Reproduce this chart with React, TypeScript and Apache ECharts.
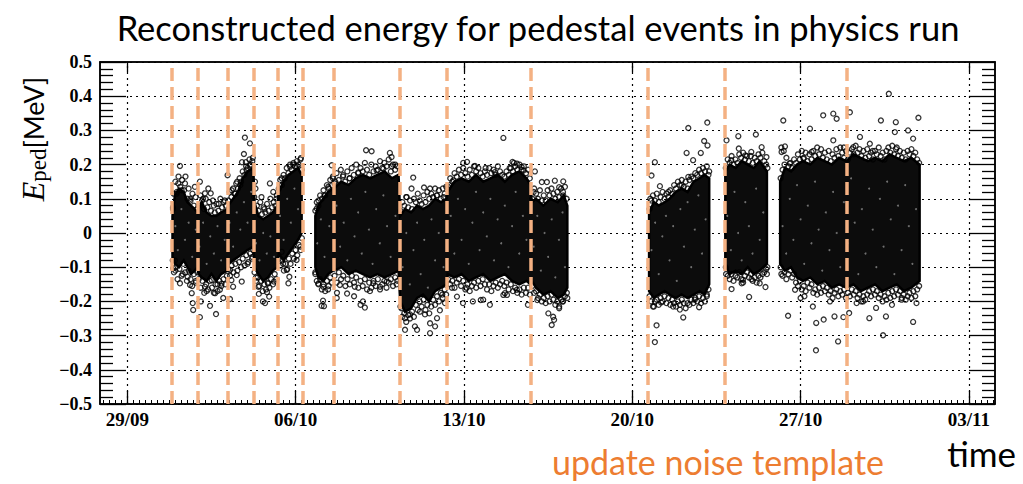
import { useEffect, useRef } from "react";
import * as echarts from "echarts";

// ---- axes -----------------------------------------------------------------
// x values are days counted from 29/09 00:00
const X_MIN = -1.135;
const X_MAX = 36.085;
const dateTickDays = [0, 7, 14, 21, 28, 35];
const dateTickLabels = ["29/09", "06/10", "13/10", "20/10", "27/10", "03/11"];
const Y_MIN = -0.5;
const Y_MAX = 0.5;
const Y_STEP = 0.1;

// ---- noise-template updates (days) ----------------------------------------
const templateUpdateDays = [1.85, 2.93, 4.17, 5.26, 6.25, 7.29, 8.57, 11.31, 13.29, 16.79, 21.64, 24.84, 29.9];

// ---- dense core of the pedestal cloud: [day, low, high] --------------------
const coreRunA: number[][] = [
  [1.88, -0.07, 0.05], [1.98, -0.09, 0.11], [2.15, -0.1, 0.13], [2.35, -0.08, 0.12], [2.5, -0.1, 0.09],
  [2.65, -0.12, 0.08], [2.8, -0.11, 0.07], [2.92, -0.1, 0.06], [2.96, -0.12, 0.07], [3.1, -0.13, 0.09],
  [3.3, -0.14, 0.06], [3.5, -0.12, 0.05], [3.7, -0.14, 0.05], [3.9, -0.12, 0.06], [4.15, -0.11, 0.07],
  [4.2, -0.09, 0.08], [4.4, -0.08, 0.1], [4.6, -0.07, 0.12], [4.8, -0.06, 0.16], [5.0, -0.05, 0.18],
  [5.24, -0.04, 0.19], [5.29, -0.1, 0.09], [5.45, -0.12, 0.05], [5.65, -0.14, 0.04], [5.85, -0.13, 0.05],
  [6.05, -0.11, 0.06], [6.24, -0.1, 0.08], [6.3, -0.06, 0.12], [6.5, -0.08, 0.15], [6.7, -0.06, 0.17],
  [6.9, -0.04, 0.18], [7.1, -0.02, 0.19], [7.25, 0.0, 0.17],
];
const coreRunB: number[][] = [
  [7.82, -0.1, 0.05], [7.95, -0.13, 0.08], [8.15, -0.14, 0.1], [8.35, -0.12, 0.12], [8.55, -0.11, 0.13],
  [8.6, -0.11, 0.13], [8.9, -0.1, 0.15], [9.2, -0.12, 0.14], [9.5, -0.11, 0.16], [9.8, -0.12, 0.17],
  [10.1, -0.13, 0.16], [10.4, -0.12, 0.17], [10.7, -0.13, 0.18], [11.0, -0.12, 0.16], [11.28, -0.11, 0.17],
  [11.35, -0.2, 0.05], [11.55, -0.23, 0.07], [11.8, -0.22, 0.06], [12.05, -0.19, 0.08], [12.3, -0.18, 0.07],
  [12.55, -0.2, 0.08], [12.8, -0.17, 0.1], [13.05, -0.16, 0.09], [13.27, -0.15, 0.1], [13.32, -0.12, 0.12],
  [13.6, -0.13, 0.15], [13.9, -0.12, 0.16], [14.2, -0.14, 0.15], [14.5, -0.13, 0.17], [14.8, -0.12, 0.15],
  [15.1, -0.14, 0.16], [15.4, -0.13, 0.17], [15.7, -0.12, 0.15], [16.0, -0.14, 0.17], [16.3, -0.15, 0.18],
  [16.6, -0.14, 0.16], [16.77, -0.15, 0.14], [16.82, -0.14, 0.09], [17.0, -0.16, 0.1], [17.3, -0.18, 0.08],
  [17.6, -0.17, 0.1], [17.9, -0.19, 0.09], [18.15, -0.18, 0.11], [18.3, -0.16, 0.08],
];
const coreRunC: number[][] = [
  [21.7, -0.17, 0.06], [21.9, -0.19, 0.09], [22.1, -0.18, 0.08], [22.35, -0.17, 0.09], [22.55, -0.18, 0.1],
  [22.8, -0.19, 0.12], [23.05, -0.18, 0.13], [23.3, -0.19, 0.12], [23.55, -0.18, 0.15], [23.8, -0.17, 0.16],
  [24.0, -0.18, 0.17], [24.2, -0.15, 0.16],
];
const coreRunD: number[][] = [
  [24.87, -0.09, 0.18], [25.05, -0.12, 0.2], [25.3, -0.11, 0.19], [25.55, -0.12, 0.21], [25.8, -0.1, 0.2],
  [26.05, -0.12, 0.19], [26.3, -0.11, 0.21], [26.6, -0.09, 0.18],
];
const coreRunE: number[][] = [
  [27.15, -0.09, 0.15], [27.35, -0.11, 0.19], [27.6, -0.1, 0.18], [27.85, -0.13, 0.2], [28.1, -0.14, 0.21],
  [28.4, -0.13, 0.2], [28.7, -0.15, 0.22], [29.0, -0.14, 0.21], [29.3, -0.16, 0.2], [29.6, -0.15, 0.22],
  [29.9, -0.16, 0.21], [30.2, -0.15, 0.23], [30.5, -0.17, 0.22], [30.8, -0.16, 0.21], [31.1, -0.15, 0.22],
  [31.4, -0.17, 0.21], [31.7, -0.16, 0.23], [32.0, -0.15, 0.22], [32.3, -0.17, 0.21], [32.6, -0.16, 0.22],
  [32.95, -0.14, 0.2],
];

// ---- individually resolved events: [day, E_ped (MeV)] ----------------------
const eventsEarlyOct: number[][] = [
  [2.19, 0.196], [2.12, 0.145], [2.4, 0.145], [2.05, 0.115], [2.26, 0.125], [1.91, -0.103], [1.98, -0.08],
  [2.19, -0.147], [2.61, -0.152], [2.68, -0.176], [2.72, -0.205], [2.74, -0.225], [2.51, -0.128], [2.81, 0.135],
  [2.62, 0.1], [1.9, 0.07], [2.3, -0.12], [2.0, -0.11], [2.85, -0.14],
  [3.02, 0.15], [3.23, 0.116], [3.37, 0.13], [3.47, 0.116], [3.02, -0.246], [3.06, -0.2], [3.44, -0.213],
  [3.69, -0.237], [3.65, -0.176], [3.23, -0.157], [3.85, -0.166], [3.99, -0.19], [3.92, -0.148], [3.51, -0.138],
  [3.15, 0.1], [3.6, 0.08], [3.8, 0.085], [4.05, 0.095], [3.3, -0.17], [3.75, -0.15],
  [4.89, 0.279], [5.1, 0.262], [4.85, 0.231], [4.77, 0.207], [4.93, 0.207], [4.17, 0.169], [4.57, 0.15],
  [4.5, 0.115], [4.34, 0.125], [4.96, 0.184], [5.1, 0.198], [4.27, -0.108], [4.33, -0.138], [4.27, -0.193],
  [4.55, -0.123], [4.76, -0.142], [4.4, -0.157], [4.7, 0.14], [5.2, 0.21], [5.0, -0.09], [5.2, -0.07],
  [5.31, 0.15], [5.93, 0.145], [6.07, 0.12], [5.58, 0.105], [5.73, -0.205], [5.64, -0.2], [5.47, -0.178],
  [5.9, -0.186], [5.81, -0.173], [5.45, -0.157], [5.85, -0.148], [6.1, -0.142], [5.7, 0.07], [6.2, 0.1], [5.35, -0.13],
  [7.22, 0.219], [6.77, 0.194], [7.05, 0.195], [6.42, 0.16], [6.42, -0.055], [6.63, -0.108], [6.7, -0.147],
  [6.74, -0.128], [7.04, -0.079], [6.48, -0.09], [6.9, 0.2], [7.2, -0.04], [6.35, 0.14],
];
const eventsMidOct: number[][] = [
  [8.14, -0.198], [8.08, -0.213], [8.18, -0.214], [8.35, -0.165], [8.15, -0.157], [7.94, -0.148], [7.88, 0.072],
  [8.5, 0.198], [8.55, 0.16], [8.36, 0.135], [8.2, 0.11], [7.95, 0.095], [7.82, -0.12],
  [9.93, 0.242], [10.16, 0.239], [10.92, 0.234], [10.99, 0.222], [11.14, 0.2], [8.98, 0.169], [9.25, 0.16],
  [9.6, 0.177], [10.37, 0.183], [10.65, 0.188], [8.72, -0.175], [8.71, -0.19], [9.14, -0.177], [9.43, -0.185],
  [9.7, -0.21], [9.88, -0.218], [9.8, -0.2], [10.09, -0.17], [10.51, -0.157], [10.79, -0.142], [10.23, -0.147],
  [9.46, -0.157], [8.84, -0.152], [8.65, 0.15], [11.2, -0.15], [11.0, 0.195],
  [11.89, 0.162], [11.82, 0.13], [12.34, 0.133], [12.59, 0.13], [11.62, 0.105], [12.87, 0.11], [13.15, 0.105],
  [11.55, -0.283], [12.05, -0.283], [11.96, -0.273], [12.59, -0.293], [12.8, -0.273], [12.88, -0.249],
  [11.55, -0.249], [12.59, -0.264], [12.17, -0.23], [11.76, -0.238], [13.0, -0.226], [13.21, -0.205],
  [12.38, -0.238], [11.4, -0.22], [13.1, -0.18],
  [13.97, 0.205], [14.13, 0.208], [14.46, 0.196], [15.64, 0.278], [16.02, 0.208], [16.2, 0.203], [13.56, 0.154],
  [15.28, 0.178], [16.48, 0.183], [16.08, 0.205], [16.4, 0.193], [13.96, -0.205], [13.71, -0.186], [14.37, -0.2],
  [15.08, -0.21], [14.7, -0.196], [15.64, -0.181], [15.79, -0.181], [16.66, -0.21], [14.8, -0.195], [15.7, -0.176],
  [16.2, -0.166], [13.4, 0.14], [14.9, 0.19], [15.9, 0.19], [13.5, -0.16], [14.1, -0.16],
  [16.95, 0.18], [17.24, 0.149], [17.45, 0.149], [17.78, 0.153], [18.13, 0.151], [17.96, 0.134], [18.13, 0.11],
  [17.51, -0.235], [17.71, -0.245], [17.75, -0.254], [17.65, -0.269], [17.96, -0.22], [18.1, -0.2],
  [17.05, -0.196], [18.3, -0.19], [16.9, 0.12],
];
const eventsLateOct: number[][] = [
  [24.12, 0.323], [23.33, 0.307], [23.99, 0.269], [24.13, 0.256], [23.26, 0.234], [23.85, 0.234], [23.53, 0.213],
  [21.94, 0.207], [21.8, 0.168], [23.33, 0.164], [23.05, 0.14], [22.15, 0.137], [22.01, -0.27], [21.94, -0.319],
  [23.12, -0.247], [22.98, -0.224], [23.78, -0.217], [22.7, -0.215], [21.9, -0.215], [22.2, -0.203],
  [23.6, -0.195], [24.1, -0.185], [21.75, 0.1], [22.5, 0.12], [24.2, 0.18],
  [25.41, 0.283], [26.14, 0.288], [24.92, 0.271], [25.43, 0.247], [25.12, 0.213], [25.7, 0.227], [26.38, 0.251],
  [26.58, 0.222], [25.95, 0.237], [25.13, -0.164], [25.86, -0.187], [26.54, -0.158], [26.3, -0.147],
  [25.55, -0.147], [25.6, -0.137], [25.96, -0.135], [24.9, -0.12], [26.6, -0.12],
  [27.2, 0.25], [27.3, 0.24], [27.48, -0.242],
  [31.67, 0.407], [30.05, 0.353], [27.28, 0.329], [28.94, 0.344], [29.36, 0.349], [29.5, 0.334], [32.9, 0.337],
  [31.34, 0.329], [31.96, 0.324], [28.39, 0.305], [32.47, 0.3], [27.35, 0.253], [27.21, 0.237], [28.46, 0.237],
  [29.36, 0.271], [30.47, 0.281], [30.88, 0.261], [31.92, 0.295], [32.68, 0.276], [30.19, 0.251], [28.12, 0.217],
  [27.55, 0.203], [28.64, -0.343], [29.56, -0.317], [31.43, -0.299], [32.68, -0.26], [28.65, -0.263],
  [28.96, -0.253], [29.41, -0.244], [29.78, -0.246], [30.86, -0.249], [31.55, -0.244], [28.51, -0.215],
  [28.16, -0.185], [30.33, -0.205], [32.2, -0.195], [32.82, -0.205], [27.77, -0.166], [29.22, -0.2],
  [31.14, -0.219], [30.02, -0.234], [27.2, -0.12], [29.8, 0.25], [31.0, 0.24], [32.0, 0.25], [28.0, -0.19],
  [30.6, -0.2], [31.8, -0.21],
];
// events on the thinning rim of the dense core
const rimEarlyOct: number[][] = [
  [1.9, 0.075], [1.93, 0.115], [2.0, 0.15], [2.06, 0.12], [2.13, 0.165], [2.2, 0.135], [2.28, 0.155], [2.36, 0.125],
  [2.42, 0.165], [2.5, 0.1], [2.55, 0.13], [2.63, 0.095], [2.71, 0.115], [2.77, 0.08], [2.84, 0.105], [2.9, 0.07],
  [1.89, -0.08], [1.94, -0.115], [2.02, -0.1], [2.09, -0.135], [2.17, -0.105], [2.26, -0.125], [2.33, -0.09],
  [2.41, -0.115], [2.48, -0.14], [2.55, -0.11], [2.63, -0.135], [2.7, -0.155], [2.77, -0.12], [2.85, -0.145], [2.91, -0.115],
  [2.97, 0.08], [3.04, 0.11], [3.11, 0.095], [3.19, 0.07], [3.26, 0.1], [3.33, 0.075], [3.41, 0.09], [3.48, 0.065],
  [3.56, 0.095], [3.64, 0.06], [3.71, 0.085], [3.79, 0.065], [3.87, 0.1], [3.94, 0.075], [4.02, 0.09], [4.1, 0.08],
  [2.97, -0.135], [3.05, -0.16], [3.12, -0.14], [3.2, -0.175], [3.28, -0.15], [3.36, -0.165], [3.43, -0.14],
  [3.52, -0.16], [3.6, -0.175], [3.67, -0.15], [3.75, -0.17], [3.83, -0.14], [3.91, -0.155], [4.0, -0.135], [4.08, -0.15], [4.14, -0.125],
  [4.2, 0.095], [4.26, 0.12], [4.33, 0.105], [4.4, 0.13], [4.47, 0.115], [4.53, 0.145], [4.6, 0.13], [4.67, 0.16],
  [4.73, 0.15], [4.8, 0.18], [4.87, 0.17], [4.94, 0.195], [5.0, 0.19], [5.08, 0.215], [5.15, 0.2], [5.22, 0.22],
  [4.2, -0.105], [4.27, -0.125], [4.34, -0.095], [4.42, -0.115], [4.5, -0.09], [4.58, -0.11], [4.65, -0.085],
  [4.73, -0.1], [4.8, -0.075], [4.88, -0.095], [4.95, -0.065], [5.03, -0.085], [5.11, -0.06], [5.19, -0.075], [5.24, -0.05],
  [5.28, 0.105], [5.33, 0.13], [5.39, 0.08], [5.46, 0.065], [5.53, 0.09], [5.6, 0.055], [5.67, 0.075], [5.74, 0.06],
  [5.81, 0.085], [5.88, 0.065], [5.95, 0.1], [6.02, 0.075], [6.09, 0.09], [6.16, 0.08], [6.22, 0.11],
  [5.29, -0.115], [5.35, -0.14], [5.42, -0.13], [5.49, -0.155], [5.57, -0.14], [5.63, -0.17], [5.7, -0.15],
  [5.77, -0.165], [5.84, -0.145], [5.91, -0.16], [5.98, -0.135], [6.06, -0.15], [6.13, -0.12], [6.2, -0.135],
  [6.3, 0.13], [6.36, 0.155], [6.43, 0.14], [6.5, 0.17], [6.56, 0.16], [6.63, 0.19], [6.7, 0.175], [6.77, 0.2],
  [6.84, 0.185], [6.91, 0.205], [6.98, 0.195], [7.05, 0.21], [7.12, 0.2], [7.2, 0.215], [7.25, 0.185],
  [6.3, -0.075], [6.37, -0.095], [6.44, -0.08], [6.51, -0.11], [6.58, -0.09], [6.65, -0.105], [6.72, -0.075],
  [6.79, -0.09], [6.86, -0.06], [6.93, -0.075], [7.0, -0.05], [7.07, -0.065], [7.14, -0.035], [7.21, -0.05], [7.26, -0.015],
];
const rimMidOct: number[][] = [
  [7.82, 0.065], [7.88, 0.09], [7.95, 0.08], [8.02, 0.11], [8.09, 0.1], [8.16, 0.125], [8.23, 0.11], [8.3, 0.14],
  [8.37, 0.13], [8.44, 0.155], [8.51, 0.14], [8.55, 0.165],
  [7.82, -0.115], [7.88, -0.14], [7.95, -0.15], [8.02, -0.135], [8.09, -0.165], [8.16, -0.15], [8.23, -0.17],
  [8.3, -0.14], [8.37, -0.155], [8.44, -0.13], [8.51, -0.145],
  [8.62, 0.145], [8.7, 0.175], [8.79, 0.155], [8.88, 0.185], [8.97, 0.165], [9.06, 0.15], [9.15, 0.18], [9.24, 0.16],
  [9.33, 0.19], [9.42, 0.17], [9.52, 0.2], [9.61, 0.175], [9.7, 0.19], [9.79, 0.18], [9.88, 0.205], [9.97, 0.185],
  [10.06, 0.17], [10.15, 0.2], [10.24, 0.18], [10.33, 0.195], [10.42, 0.185], [10.51, 0.21], [10.6, 0.19],
  [10.69, 0.205], [10.78, 0.195], [10.87, 0.215], [10.96, 0.18], [11.05, 0.2], [11.14, 0.185], [11.23, 0.195],
  [8.62, -0.125], [8.71, -0.145], [8.8, -0.115], [8.89, -0.135], [8.98, -0.125], [9.07, -0.155], [9.16, -0.135],
  [9.25, -0.15], [9.34, -0.125], [9.43, -0.145], [9.52, -0.13], [9.61, -0.16], [9.7, -0.14], [9.79, -0.155],
  [9.88, -0.135], [9.97, -0.165], [10.06, -0.145], [10.15, -0.16], [10.24, -0.14], [10.33, -0.155], [10.42, -0.135],
  [10.51, -0.165], [10.6, -0.15], [10.69, -0.14], [10.78, -0.16], [10.87, -0.145], [10.96, -0.135], [11.05, -0.155],
  [11.14, -0.13], [11.23, -0.14],
  [11.36, 0.065], [11.44, 0.09], [11.52, 0.08], [11.6, 0.105], [11.68, 0.075], [11.76, 0.095], [11.84, 0.07],
  [11.92, 0.1], [12.0, 0.09], [12.08, 0.115], [12.16, 0.095], [12.24, 0.085], [12.32, 0.11], [12.4, 0.09],
  [12.48, 0.12], [12.56, 0.1], [12.64, 0.115], [12.72, 0.105], [12.8, 0.13], [12.88, 0.11], [12.96, 0.125],
  [13.04, 0.1], [13.12, 0.13], [13.2, 0.115], [13.26, 0.135],
  [11.36, -0.215], [11.44, -0.245], [11.52, -0.235], [11.6, -0.26], [11.68, -0.24], [11.76, -0.25], [11.84, -0.23],
  [11.92, -0.245], [12.0, -0.21], [12.08, -0.225], [12.16, -0.2], [12.24, -0.215], [12.32, -0.195], [12.4, -0.225],
  [12.48, -0.21], [12.56, -0.235], [12.64, -0.215], [12.72, -0.195], [12.8, -0.21], [12.88, -0.185], [12.96, -0.2],
  [13.04, -0.175], [13.12, -0.19], [13.2, -0.165], [13.26, -0.18],
  [13.34, 0.135], [13.43, 0.16], [13.52, 0.15], [13.61, 0.175], [13.7, 0.165], [13.79, 0.185], [13.88, 0.17],
  [13.97, 0.19], [14.06, 0.175], [14.15, 0.165], [14.24, 0.185], [14.33, 0.17], [14.42, 0.195], [14.51, 0.18],
  [14.6, 0.19], [14.69, 0.175], [14.78, 0.165], [14.87, 0.18], [14.96, 0.17], [15.05, 0.19], [15.14, 0.175],
  [15.23, 0.185], [15.32, 0.17], [15.41, 0.195], [15.5, 0.18], [15.59, 0.17], [15.68, 0.165], [15.77, 0.18],
  [15.86, 0.17], [15.95, 0.19], [16.04, 0.18], [16.13, 0.195], [16.22, 0.185], [16.31, 0.2], [16.4, 0.185],
  [16.49, 0.195], [16.58, 0.175], [16.67, 0.185], [16.74, 0.16],
  [13.34, -0.135], [13.43, -0.15], [13.52, -0.14], [13.61, -0.16], [13.7, -0.145], [13.79, -0.135], [13.88, -0.155],
  [13.97, -0.14], [14.06, -0.165], [14.15, -0.15], [14.24, -0.17], [14.33, -0.155], [14.42, -0.145], [14.51, -0.16],
  [14.6, -0.14], [14.69, -0.155], [14.78, -0.135], [14.87, -0.15], [14.96, -0.165], [15.05, -0.15], [15.14, -0.17],
  [15.23, -0.155], [15.32, -0.145], [15.41, -0.16], [15.5, -0.15], [15.59, -0.14], [15.68, -0.155], [15.77, -0.145],
  [15.86, -0.165], [15.95, -0.15], [16.04, -0.17], [16.13, -0.16], [16.22, -0.175], [16.31, -0.165], [16.4, -0.18],
  [16.49, -0.16], [16.58, -0.175], [16.67, -0.16], [16.74, -0.18],
  [16.84, 0.1], [16.92, 0.13], [17.0, 0.115], [17.08, 0.1], [17.16, 0.125], [17.24, 0.095], [17.32, 0.11],
  [17.4, 0.095], [17.48, 0.125], [17.56, 0.11], [17.64, 0.13], [17.72, 0.115], [17.8, 0.1], [17.88, 0.12],
  [17.96, 0.105], [18.04, 0.13], [18.12, 0.12], [18.2, 0.135], [18.27, 0.1],
  [16.84, -0.155], [16.92, -0.175], [17.0, -0.17], [17.08, -0.19], [17.16, -0.18], [17.24, -0.2], [17.32, -0.19],
  [17.4, -0.205], [17.48, -0.185], [17.56, -0.2], [17.64, -0.18], [17.72, -0.195], [17.8, -0.21], [17.88, -0.2],
  [17.96, -0.215], [18.04, -0.195], [18.12, -0.2], [18.2, -0.185], [18.28, -0.175],
];
const rimLateOct: number[][] = [
  [21.72, 0.07], [21.79, 0.095], [21.86, 0.11], [21.94, 0.095], [22.02, 0.115], [22.1, 0.09], [22.18, 0.105],
  [22.26, 0.12], [22.34, 0.1], [22.42, 0.115], [22.5, 0.105], [22.58, 0.125], [22.66, 0.115], [22.74, 0.14],
  [22.82, 0.13], [22.9, 0.15], [22.98, 0.14], [23.06, 0.155], [23.14, 0.135], [23.22, 0.15], [23.3, 0.13],
  [23.38, 0.155], [23.46, 0.165], [23.54, 0.16], [23.62, 0.175], [23.7, 0.17], [23.78, 0.185], [23.86, 0.175],
  [23.94, 0.19], [24.02, 0.18], [24.1, 0.195], [24.17, 0.17],
  [21.72, -0.185], [21.79, -0.2], [21.86, -0.215], [21.94, -0.2], [22.02, -0.195], [22.1, -0.21], [22.18, -0.19],
  [22.26, -0.2], [22.34, -0.185], [22.42, -0.205], [22.5, -0.19], [22.58, -0.21], [22.66, -0.195], [22.74, -0.205],
  [22.82, -0.215], [22.9, -0.2], [22.98, -0.21], [23.06, -0.195], [23.14, -0.205], [23.22, -0.22], [23.3, -0.205],
  [23.38, -0.21], [23.46, -0.195], [23.54, -0.205], [23.62, -0.19], [23.7, -0.2], [23.78, -0.185], [23.86, -0.205],
  [23.94, -0.19], [24.02, -0.2], [24.1, -0.18], [24.17, -0.165],
  [24.89, 0.19], [24.97, 0.215], [25.05, 0.205], [25.13, 0.225], [25.21, 0.2], [25.29, 0.215], [25.37, 0.205],
  [25.45, 0.23], [25.53, 0.22], [25.61, 0.235], [25.69, 0.215], [25.77, 0.225], [25.85, 0.21], [25.93, 0.225],
  [26.01, 0.205], [26.09, 0.22], [26.17, 0.21], [26.25, 0.23], [26.33, 0.22], [26.41, 0.235], [26.49, 0.21],
  [26.57, 0.2], [26.62, 0.19],
  [24.89, -0.1], [24.97, -0.125], [25.05, -0.135], [25.13, -0.12], [25.21, -0.14], [25.29, -0.125], [25.37, -0.13],
  [25.45, -0.115], [25.53, -0.135], [25.61, -0.145], [25.69, -0.125], [25.77, -0.115], [25.85, -0.13], [25.93, -0.12],
  [26.01, -0.14], [26.09, -0.13], [26.17, -0.145], [26.25, -0.125], [26.33, -0.13], [26.41, -0.12], [26.49, -0.115],
  [26.57, -0.105], [26.62, -0.1],
  [27.17, 0.16], [27.25, 0.185], [27.33, 0.2], [27.41, 0.22], [27.49, 0.195], [27.57, 0.205], [27.65, 0.19],
  [27.73, 0.215], [27.81, 0.205], [27.89, 0.23], [27.97, 0.215], [28.05, 0.24], [28.13, 0.22], [28.21, 0.235],
  [28.29, 0.21], [28.37, 0.23], [28.45, 0.215], [28.53, 0.24], [28.61, 0.225], [28.69, 0.25], [28.77, 0.23],
  [28.85, 0.245], [28.93, 0.22], [29.01, 0.235], [29.09, 0.215], [29.17, 0.24], [29.25, 0.21], [29.33, 0.23],
  [29.41, 0.22], [29.49, 0.245], [29.57, 0.225], [29.65, 0.25], [29.73, 0.235], [29.81, 0.22], [29.89, 0.24],
  [29.97, 0.215], [30.05, 0.235], [30.13, 0.245], [30.21, 0.23], [30.29, 0.255], [30.37, 0.235], [30.45, 0.245],
  [30.53, 0.225], [30.61, 0.24], [30.69, 0.22], [30.77, 0.245], [30.85, 0.225], [30.93, 0.235], [31.01, 0.215],
  [31.09, 0.24], [31.17, 0.23], [31.25, 0.25], [31.33, 0.225], [31.41, 0.235], [31.49, 0.215], [31.57, 0.24],
  [31.65, 0.25], [31.73, 0.235], [31.81, 0.255], [31.89, 0.23], [31.97, 0.245], [32.05, 0.225], [32.13, 0.24],
  [32.21, 0.22], [32.29, 0.235], [32.37, 0.215], [32.45, 0.24], [32.53, 0.23], [32.61, 0.245], [32.69, 0.225],
  [32.77, 0.235], [32.85, 0.215], [32.93, 0.205],
  [27.17, -0.1], [27.25, -0.125], [27.33, -0.115], [27.41, -0.135], [27.49, -0.12], [27.57, -0.11], [27.65, -0.13],
  [27.73, -0.12], [27.81, -0.145], [27.89, -0.155], [27.97, -0.14], [28.05, -0.165], [28.13, -0.155], [28.21, -0.17],
  [28.29, -0.145], [28.37, -0.16], [28.45, -0.15], [28.53, -0.175], [28.61, -0.165], [28.69, -0.18], [28.77, -0.16],
  [28.85, -0.175], [28.93, -0.155], [29.01, -0.17], [29.09, -0.16], [29.17, -0.18], [29.25, -0.17], [29.33, -0.19],
  [29.41, -0.175], [29.49, -0.165], [29.57, -0.185], [29.65, -0.17], [29.73, -0.18], [29.81, -0.165], [29.89, -0.19],
  [29.97, -0.175], [30.05, -0.185], [30.13, -0.165], [30.21, -0.18], [30.29, -0.17], [30.37, -0.19], [30.45, -0.18],
  [30.53, -0.2], [30.61, -0.185], [30.69, -0.195], [30.77, -0.18], [30.85, -0.17], [30.93, -0.185], [31.01, -0.165],
  [31.09, -0.18], [31.17, -0.17], [31.25, -0.19], [31.33, -0.18], [31.41, -0.2], [31.49, -0.185], [31.57, -0.195],
  [31.65, -0.175], [31.73, -0.19], [31.81, -0.17], [31.89, -0.185], [31.97, -0.165], [32.05, -0.18], [32.13, -0.17],
  [32.21, -0.19], [32.29, -0.18], [32.37, -0.195], [32.45, -0.185], [32.53, -0.175], [32.61, -0.19], [32.69, -0.17],
  [32.77, -0.185], [32.85, -0.165], [32.93, -0.155],
];
// small gaps between overlapping markers inside the dense core
const gapsEarlyOct: number[][] = [
  [2.0, 0.02], [2.1, -0.05], [2.25, 0.07], [2.4, -0.02], [2.55, 0.03], [2.7, -0.07], [2.85, 0.01], [3.0, -0.04],
  [3.15, 0.03], [3.3, -0.09], [3.45, -0.01], [3.6, -0.06], [3.75, 0.02], [3.9, -0.08], [4.05, -0.02], [4.25, 0.03],
  [4.4, -0.04], [4.55, 0.06], [4.7, 0.01], [4.85, 0.09], [5.0, 0.03], [5.15, 0.12], [5.35, -0.03], [5.5, -0.08],
  [5.65, 0.0], [5.8, -0.06], [5.95, -0.01], [6.1, -0.07], [6.35, 0.05], [6.5, -0.02], [6.65, 0.1], [6.8, 0.03],
  [6.95, 0.13], [7.1, 0.07],
];
const gapsMidOct: number[][] = [
  [7.9, -0.03], [8.05, 0.04], [8.2, -0.07], [8.4, 0.02], [8.7, 0.08], [8.85, -0.04], [9.0, 0.03], [9.15, -0.08],
  [9.3, 0.1], [9.45, -0.01], [9.6, 0.06], [9.75, -0.06], [9.9, 0.12], [10.05, 0.01], [10.2, -0.09], [10.35, 0.07],
  [10.5, -0.03], [10.65, 0.11], [10.8, 0.02], [10.95, -0.07], [11.15, 0.05], [11.45, -0.1], [11.6, 0.0],
  [11.75, -0.15], [11.9, -0.05], [12.05, 0.03], [12.2, -0.12], [12.35, -0.02], [12.5, -0.16], [12.65, 0.04],
  [12.8, -0.08], [12.95, 0.0], [13.15, -0.1], [13.45, 0.05], [13.6, -0.06], [13.75, 0.1], [13.9, -0.02],
  [14.05, 0.07], [14.2, -0.09], [14.35, 0.03], [14.5, 0.12], [14.65, -0.05], [14.8, 0.06], [14.95, -0.01],
  [15.1, 0.1], [15.25, -0.08], [15.4, 0.04], [15.55, -0.03], [15.7, 0.08], [15.85, -0.1], [16.0, 0.02],
  [16.15, 0.12], [16.3, -0.06], [16.45, 0.05], [16.6, -0.02], [16.9, -0.04], [17.05, 0.05], [17.2, -0.11],
  [17.35, 0.0], [17.5, -0.07], [17.65, 0.04], [17.8, -0.13], [17.95, -0.02], [18.1, 0.06], [18.2, -0.1],
];
const gapsLateOct: number[][] = [
  [21.8, -0.05], [21.95, 0.03], [22.1, -0.12], [22.25, -0.01], [22.4, 0.05], [22.55, -0.08], [22.7, 0.02],
  [22.85, -0.14], [23.0, 0.07], [23.15, -0.04], [23.3, 0.09], [23.45, -0.1], [23.6, 0.01], [23.75, 0.11],
  [23.9, -0.06], [24.05, 0.04], [24.95, 0.05], [25.1, -0.05], [25.25, 0.12], [25.4, 0.0], [25.55, -0.08],
  [25.7, 0.09], [25.85, 0.02], [26.0, -0.06], [26.15, 0.13], [26.3, -0.02], [26.45, 0.06],
  [27.25, 0.02], [27.4, -0.06], [27.55, 0.1], [27.7, -0.02], [27.85, 0.14], [28.0, 0.04], [28.15, -0.09],
  [28.3, 0.08], [28.45, -0.03], [28.6, 0.15], [28.75, 0.01], [28.9, -0.11], [29.05, 0.06], [29.2, -0.05],
  [29.35, 0.12], [29.5, 0.0], [29.65, -0.1], [29.8, 0.09], [29.95, -0.03], [30.1, 0.16], [30.25, 0.03],
  [30.4, -0.12], [30.55, 0.07], [30.7, -0.06], [30.85, 0.13], [31.0, 0.01], [31.15, -0.1], [31.3, 0.1],
  [31.45, -0.04], [31.6, 0.15], [31.75, 0.04], [31.9, -0.12], [32.05, 0.08], [32.2, -0.05], [32.35, 0.14],
  [32.5, 0.02], [32.65, -0.09], [32.8, 0.07],
];

const coreBands = [coreRunA, coreRunB, coreRunC, coreRunD, coreRunE];
const markerEvents = [
  ...rimEarlyOct, ...rimMidOct, ...rimLateOct,
  ...eventsEarlyOct, ...eventsMidOct, ...eventsLateOct,
];
const coreGaps = [...gapsEarlyOct, ...gapsMidOct, ...gapsLateOct];

// minor tick marks every 6 hours along the time axis
const minorTickDays: number[] = [];
for (let d = -1; d <= 36; d += 0.25) minorTickDays.push(d);

const BLACK = "#000";
const ORANGE_LINE = "#F4B183";
const ORANGE_TEXT = "#ED7D31";
const SERIF = "'Liberation Serif', 'DejaVu Serif', serif";
const SANS = "Lato, 'Noto Sans', sans-serif";

function yLabel(v: number): string {
  if (Math.abs(v) < 1e-9) return "0";
  return (v < 0 ? "\u2212" : "") + Math.abs(v).toFixed(1);
}
function xLabel(v: number): string {
  const i = dateTickDays.findIndex((d) => Math.abs(d - v) < 1e-6);
  return i >= 0 ? dateTickLabels[i] : "";
}

const tickLine = { color: BLACK, width: 1.3 };

const option: any = {
  animation: false,
  backgroundColor: "#fff",
  grid: { left: 100, right: 28, top: 62, bottom: 80, show: true, borderColor: BLACK, borderWidth: 1.5, backgroundColor: "transparent" },
  xAxis: [
    {
      type: "value", min: X_MIN, max: X_MAX, position: "bottom",
      axisLine: { show: true, onZero: false, lineStyle: { color: BLACK, width: 1.5 } },
      axisTick: { show: true, inside: true, length: 13, customValues: dateTickDays, lineStyle: tickLine },
      axisLabel: {
        show: true, customValues: dateTickDays, formatter: xLabel, fontFamily: SERIF, fontWeight: "bold",
        fontSize: 19, color: BLACK, margin: 6,
      },
      splitLine: { show: false },
    },
    {
      type: "value", min: X_MIN, max: X_MAX, position: "bottom",
      axisLine: { show: false, onZero: false },
      axisTick: { show: true, inside: true, length: 4, customValues: minorTickDays, lineStyle: { color: BLACK, width: 1 } },
      axisLabel: { show: false },
      splitLine: { show: false },
    },
    {
      type: "value", min: X_MIN, max: X_MAX, position: "top",
      axisLine: { show: true, onZero: false, lineStyle: { color: BLACK, width: 1.5 } },
      axisTick: { show: true, inside: true, length: 10, customValues: dateTickDays, lineStyle: tickLine },
      axisLabel: { show: false },
      splitLine: { show: false },
    },
  ],
  yAxis: [
    {
      type: "value", min: Y_MIN, max: Y_MAX, interval: Y_STEP, position: "left",
      axisLine: { show: true, onZero: false, lineStyle: { color: BLACK, width: 1.5 } },
      axisTick: { show: true, inside: true, length: 26, lineStyle: tickLine },
      minorTick: { show: true, splitNumber: 5, length: 13, lineStyle: tickLine },
      axisLabel: { formatter: yLabel, fontFamily: SERIF, fontWeight: "bold", fontSize: 18, color: BLACK, margin: 8 },
      splitLine: { show: true, lineStyle: { color: BLACK, width: 1.2, type: [2, 4] } },
    },
    {
      type: "value", min: Y_MIN, max: Y_MAX, interval: Y_STEP, position: "right",
      axisLine: { show: true, onZero: false, lineStyle: { color: BLACK, width: 1.5 } },
      axisTick: { show: true, inside: true, length: 26, lineStyle: tickLine },
      minorTick: { show: true, splitNumber: 5, length: 13, lineStyle: tickLine },
      axisLabel: { show: false },
      splitLine: { show: false },
    },
  ],
  series: [
    {
      type: "line", name: "grid", data: [], xAxisIndex: 0, yAxisIndex: 0, z: 1,
      markLine: {
        silent: true, symbol: ["none", "none"], z: 1, animation: false,
        label: { show: false },
        lineStyle: { color: BLACK, width: 1.2, type: [2, 4] },
        data: dateTickDays.map((d) => ({ xAxis: d })),
      },
    },
    {
      type: "custom", name: "core", xAxisIndex: 0, yAxisIndex: 0, z: 2, clip: true,
      data: coreBands.map((b) => [b[0][0], b[0][2]]),
      renderItem: (params: any, api: any) => {
        const band = coreBands[params.dataIndex];
        const upper = band.map((p) => api.coord([p[0], p[2]]));
        const lower = band.slice().reverse().map((p) => api.coord([p[0], p[1]]));
        return {
          type: "polygon",
          shape: { points: upper.concat(lower) },
          style: { fill: "#0c0c0c", stroke: BLACK, lineWidth: 2.5 },
        };
      },
    },
    {
      type: "scatter", name: "gaps", xAxisIndex: 0, yAxisIndex: 0, z: 3,
      data: coreGaps, symbol: "circle", symbolSize: 2,
      itemStyle: { color: "#8a8a8a", borderWidth: 0 },
    },
    {
      type: "scatter", name: "events", xAxisIndex: 0, yAxisIndex: 0, z: 4,
      data: markerEvents, symbol: "circle", symbolSize: 5,
      itemStyle: { color: "rgba(255,255,255,0)", borderColor: BLACK, borderWidth: 1.3 },
    },
    {
      type: "line", name: "updates", data: [], xAxisIndex: 0, yAxisIndex: 0, z: 10,
      markLine: {
        silent: true, symbol: ["none", "none"], z: 10, animation: false,
        label: { show: false },
        lineStyle: { color: ORANGE_LINE, width: 3.5, type: [13, 6] },
        data: templateUpdateDays.map((d) => ({ xAxis: d })),
      },
    },
  ],
  graphic: [
    {
      type: "text", x: 538, y: 27,
      style: {
        text: "Reconstructed energy for pedestal events in physics run", font: `34.5px ${SANS}`,
        fill: BLACK, align: "center", verticalAlign: "middle", textAlign: "center", textVerticalAlign: "middle",
      },
    },
    {
      type: "text", x: 33, y: 139, rotation: Math.PI / 2,
      style: {
        text: "{e|E}{s|ped}{u|[MeV]}", fill: BLACK,
        align: "center", verticalAlign: "middle", textAlign: "center", textVerticalAlign: "middle",
        rich: {
          e: { fontFamily: SERIF, fontStyle: "italic", fontSize: 32, fill: BLACK, color: BLACK },
          s: { fontFamily: SERIF, fontSize: 23, fill: BLACK, color: BLACK, verticalAlign: "bottom", padding: [10, 0, 0, 0] },
          u: { fontFamily: SANS, fontSize: 27, fill: BLACK, color: BLACK },
        },
      },
    },
    {
      type: "text", x: 1016, y: 453,
      style: {
        text: "time", font: `35px ${SANS}`, fill: BLACK,
        align: "right", verticalAlign: "middle", textAlign: "right", textVerticalAlign: "middle",
      },
    },
    {
      type: "text", x: 718, y: 461,
      style: {
        text: "update noise template", font: `34px ${SANS}`, fill: ORANGE_TEXT,
        align: "center", verticalAlign: "middle", textAlign: "center", textVerticalAlign: "middle",
      },
    },
  ],
};

export default function App() {
  const ref = useRef<HTMLDivElement>(null);
  useEffect(() => {
    if (!ref.current) return;
    const chart = echarts.init(ref.current, null, { renderer: "svg" });
    chart.setOption(option);
    return () => chart.dispose();
  }, []);
  return (
    <div
      ref={ref}
      style={{ position: "fixed", left: 0, top: 0, width: 1023, height: 484, background: "#fff" }}
    />
  );
}
